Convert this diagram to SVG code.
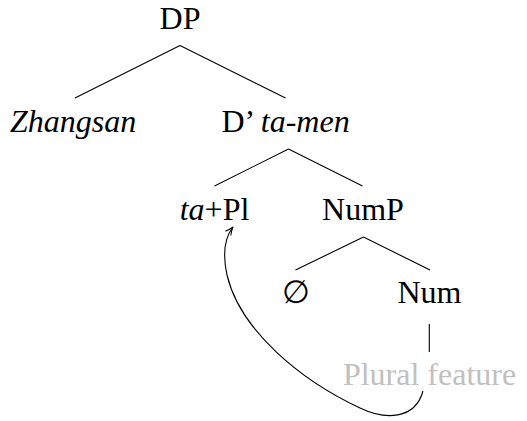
<svg xmlns="http://www.w3.org/2000/svg" width="527" height="421" viewBox="0 0 527 421">
<defs>
<style>
.edge{stroke:#000;stroke-width:1.1;fill:none}
</style>
<marker id="arr" viewBox="0 0 10 10" refX="9" refY="5" markerWidth="10" markerHeight="10" markerUnits="userSpaceOnUse" orient="auto">
<path d="M1,1.5 Q5,4 9,5 Q5,6 1,8.5" fill="none" stroke="#000" stroke-width="1"/>
</marker>
</defs>
<rect width="527" height="421" fill="#fff"/>
<g id="connectors">
<path class="edge" d="M180,45.5 L75,98 M180,45.5 L285.5,98"/>
<path class="edge" d="M288.5,149 L214.5,186 M288.5,149 L362.5,186"/>
<path class="edge" d="M363.5,237 L295.5,270 M363.5,237 L430,270"/>
<path class="edge" d="M429.3,324 L429.3,352"/>
<path class="edge" marker-end="url(#arr)" d="M423,391 C415,420 385,420 360,408 C300,380 240,330 227,275 C222,252 226,236 233,227"/>
</g>
<g font-family="Liberation Serif" font-size="32" text-anchor="middle" fill="#000">
<g id="n-dp"><text x="180" y="29">DP</text></g>
<g id="n-zhangsan"><text font-style="italic" x="73" y="131.5">Zhangsan</text></g>
<g id="n-dbar"><text x="285.5" y="131.5">D’ <tspan font-style="italic">ta-men</tspan></text></g>
<g id="n-tapl"><text x="214.5" y="220"><tspan font-style="italic">ta</tspan>+Pl</text></g>
<g id="n-nump"><text x="363" y="220">NumP</text></g>
<g id="n-empty"><text x="295.5" y="303">∅</text></g>
<g id="n-num"><text x="429.5" y="303">Num</text></g>
<g id="n-plural"><text fill="#c0c0c0" x="429.5" y="385">Plural feature</text></g>
</g>
</svg>
